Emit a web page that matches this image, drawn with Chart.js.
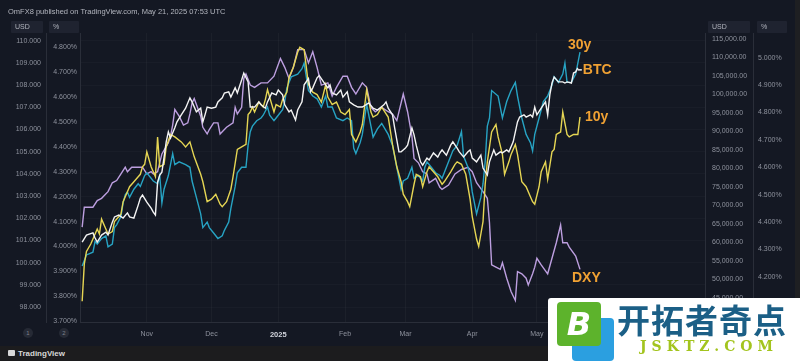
<!DOCTYPE html>
<html><head><meta charset="utf-8">
<script src="https://cdn.jsdelivr.net/npm/chart.js@4.4.1/dist/chart.umd.min.js"></script>
<style>
html,body{margin:0;padding:0;background:#141823;width:800px;height:361px;overflow:hidden;font-family:"Liberation Sans",Arial,sans-serif;}
#wrap{position:relative;width:800px;height:361px;}
canvas{position:absolute;left:0;top:0;}
.hdr{position:absolute;left:8px;top:7px;font-size:7.5px;color:#b2b5be;white-space:nowrap;}
.badge{position:absolute;top:21px;height:12px;background:#1f2330;color:#b2b5be;font-size:7px;line-height:12px;padding-left:4px;box-sizing:border-box;border-radius:1px;}
.strip{position:absolute;left:795px;top:0;width:5px;height:346px;background:#1e1f22;}
.foot{position:absolute;left:0;top:346px;width:800px;height:15px;background:#1c1c1e;}
.tv{position:absolute;left:8px;top:349px;font-size:8px;color:#d8d8d8;font-weight:bold;white-space:nowrap;}
.tv b{display:inline-block;width:7px;height:6px;background:#d8d8d8;margin-right:3px;vertical-align:-0px;border-radius:1px;}
.circ{position:absolute;top:328px;width:10px;height:10px;border-radius:50%;background:#262a35;color:#7d818c;font-size:6px;line-height:10px;text-align:center;}
.wm{position:absolute;left:548px;top:298px;width:252px;height:63px;background:#ffffff;border-top-left-radius:3px;}
.gsq{position:absolute;left:572px;top:318px;width:42px;height:43px;background:#2b9fe0;border-radius:4px;}
.bsq{position:absolute;left:557px;top:302px;width:44px;height:44px;background:#5db32c;border-radius:4px;color:#fff;font:italic bold 32px "DejaVu Sans",sans-serif;text-align:center;line-height:44px;}
.cn{position:absolute;left:617px;top:300px;font:bold 33px "Noto Sans CJK SC",sans-serif;color:#1b5f86;white-space:nowrap;line-height:38px;letter-spacing:1px;}
.en{position:absolute;left:640px;top:338px;font:bold 14px "DejaVu Serif",serif;color:#a3c41e;letter-spacing:5px;white-space:nowrap;line-height:16px;}
</style></head>
<body><div id="wrap">
<canvas id="c" width="800" height="361"></canvas>
<div class="hdr">OmFX8 published on TradingView.com, May 21, 2025 07:53 UTC</div>
<div class="badge" style="left:11px;width:32px;">USD</div>
<div class="badge" style="left:49px;width:30px;">%</div>
<div class="badge" style="left:708px;width:42px;">USD</div>
<div class="badge" style="left:757px;width:30px;">%</div>
<div class="strip"></div>
<div class="circ" style="left:23px;">1</div>
<div class="circ" style="left:59px;">2</div>
<div class="foot"></div>
<div class="tv"><b></b>TradingView</div>
<div class="wm"></div>
<div class="gsq"></div>
<div class="bsq">B</div>
<div class="cn">开拓者奇点</div>
<div class="en">JSKTZ.COM</div>
</div>
<script>
// ---- data (x = days since 1 Oct 2024) ----
const monthDays   = [31, 61, 92, 123, 151, 182, 212];
const monthLabels = ['Nov', 'Dec', '2025', 'Feb', 'Mar', 'Apr', 'May'];

const dxyTicks   = [98,99,100,101,102,103,104,105,106,107,108,109,110];
const tenYTicks  = [3.7,3.8,3.9,4.0,4.1,4.2,4.3,4.4,4.5,4.6,4.7,4.8];
const btcTicks   = [45000,50000,55000,60000,65000,70000,75000,80000,85000,90000,95000,100000,105000,110000,115000];
const thirtyTicks= [4.1,4.2,4.3,4.4,4.5,4.6,4.7,4.8,4.9,5.0];

const btcDays = [1,3,6,7,8,10,12,13,15,16,18,20,22,23,25,27,28,29,31,33,34,35,36,37,38,39,40,41,42,44,45,47,49,51,52,54,56,57,58,59,61,63,64,66,67,69,70,72,73,75,76,78,79,81,83,84,86,87,89,91,92,94,95,97,98,100,101,103,104,106,107,108,110,111,113,115,116,117,119,121,122,124,125,127,129,131,134,136,138,141,142,143,145,146,148,149,151,152,154,155,156,158,159,161,162,164,166,167,168,170,172,173,175,176,178,180,181,182,184,186,187,189,190,192,193,195,196,198,199,201,203,204,206,207,209,210,211,212,214,216,217,218,219,220,222,224,225,226,228,229,230,231];
const btcValues = [60100,62000,62600,61200,60100,62000,62800,62000,65500,66900,67400,66600,68000,66900,66600,70100,72000,72800,70900,69300,68200,67400,76300,78200,79000,83000,87200,89900,88200,91000,92600,94500,96300,99100,98000,95300,96300,92600,94500,96600,96300,96600,98000,99100,100400,100700,99300,101800,100400,103900,105800,103400,96600,96600,98000,97200,96300,98000,100400,99900,101200,99900,97200,95300,95800,93100,95800,98000,102600,104300,100700,101800,104500,105100,103400,101800,102600,100400,99900,101200,99300,100700,98000,97200,96600,96600,97700,96300,95800,97200,98000,96300,94500,91000,84500,84500,85500,86300,91000,89100,86300,81800,80900,82800,82300,84200,83100,84200,85000,83600,86300,87200,85500,84500,83100,84500,85000,82800,81800,83600,80100,78200,81800,85000,83600,84500,84200,85000,84500,87200,92600,93900,94500,93900,94500,93900,96600,94500,96300,98000,94500,99900,103100,104700,103400,103400,103100,103400,103100,105800,106100,107200];

const tenYDays = [1,2,3,5,6,8,9,10,12,13,15,16,19,20,22,23,25,27,28,29,30,31,33,34,35,36,37,39,40,42,44,47,49,51,53,56,57,59,61,63,65,66,68,70,71,73,75,77,78,79,80,81,83,85,86,87,88,90,91,93,94,96,97,99,101,102,104,106,108,110,112,114,115,117,119,121,123,125,126,128,130,131,133,135,136,138,140,143,145,147,149,150,152,153,155,156,158,159,161,162,164,166,168,169,172,174,175,177,179,181,182,184,185,187,188,189,191,193,194,196,197,199,200,202,203,205,207,209,210,211,213,214,216,217,219,220,221,223,224,226,227,229,231,232];
const tenYValues = [3.78,3.93,3.98,4.01,4.03,4.07,4.05,4.11,4.07,4.05,4.06,4.10,4.13,4.18,4.22,4.24,4.26,4.28,4.29,4.32,4.33,4.38,4.32,4.30,4.28,4.44,4.32,4.33,4.40,4.45,4.44,4.42,4.40,4.42,4.36,4.29,4.26,4.18,4.19,4.21,4.17,4.16,4.18,4.23,4.28,4.39,4.40,4.41,4.53,4.54,4.56,4.54,4.58,4.56,4.59,4.63,4.60,4.54,4.57,4.56,4.59,4.62,4.68,4.72,4.78,4.80,4.79,4.65,4.62,4.61,4.58,4.65,4.60,4.57,4.58,4.54,4.53,4.55,4.45,4.42,4.46,4.49,4.63,4.54,4.52,4.53,4.56,4.52,4.41,4.32,4.26,4.21,4.18,4.16,4.25,4.29,4.28,4.24,4.30,4.32,4.30,4.28,4.25,4.26,4.30,4.33,4.34,4.33,4.29,4.19,4.12,4.03,4.00,4.10,4.25,4.34,4.46,4.49,4.44,4.37,4.29,4.34,4.37,4.41,4.37,4.26,4.24,4.20,4.18,4.17,4.24,4.30,4.34,4.27,4.38,4.39,4.45,4.46,4.54,4.45,4.44,4.45,4.45,4.52];

const thirtyYDays = [1,3,6,7,8,10,12,13,15,16,17,19,20,21,22,23,25,27,28,30,31,34,36,37,38,39,41,43,44,46,49,51,52,54,56,57,59,60,62,64,66,67,69,70,72,73,75,77,78,79,80,82,84,85,87,88,90,91,94,95,96,98,101,103,104,106,108,110,112,114,115,117,119,122,124,126,127,128,130,131,133,135,136,138,140,143,145,147,149,150,152,154,155,157,159,160,161,163,165,167,168,171,173,175,177,178,180,181,182,184,186,187,188,189,190,191,194,195,196,198,200,202,203,205,207,209,210,211,213,215,217,219,220,222,224,225,226,228,230,231,232];
const thirtyYValues = [4.24,4.28,4.29,4.33,4.32,4.34,4.35,4.31,4.32,4.38,4.39,4.42,4.47,4.50,4.51,4.49,4.52,4.54,4.53,4.57,4.58,4.55,4.54,4.57,4.47,4.52,4.57,4.65,4.61,4.62,4.61,4.60,4.55,4.49,4.43,4.38,4.40,4.38,4.36,4.34,4.35,4.37,4.40,4.45,4.53,4.58,4.60,4.60,4.68,4.73,4.75,4.77,4.78,4.79,4.82,4.79,4.77,4.78,4.81,4.84,4.89,4.93,4.94,4.96,4.98,4.88,4.86,4.85,4.82,4.86,4.82,4.82,4.78,4.77,4.78,4.77,4.67,4.65,4.69,4.72,4.83,4.75,4.71,4.74,4.76,4.72,4.68,4.60,4.52,4.55,4.56,4.60,4.56,4.57,4.55,4.60,4.62,4.60,4.58,4.57,4.56,4.62,4.66,4.68,4.73,4.64,4.60,4.57,4.51,4.43,4.49,4.54,4.62,4.75,4.78,4.88,4.86,4.82,4.78,4.84,4.88,4.91,4.86,4.78,4.72,4.69,4.66,4.72,4.78,4.84,4.86,4.90,4.93,4.91,4.94,4.98,4.91,4.91,4.94,4.98,5.02];

const dxyDays = [1,2,6,8,10,13,15,17,19,21,22,24,28,29,31,33,34,36,38,41,42,43,44,46,48,50,51,52,53,56,57,59,60,62,64,65,66,68,71,72,73,75,76,77,79,81,84,87,90,93,95,97,99,101,104,106,108,110,112,115,117,119,122,124,126,128,131,133,135,137,140,143,145,147,150,152,154,155,157,159,161,162,165,167,168,171,174,177,180,182,184,187,189,190,191,193,195,196,198,200,202,203,205,207,208,210,211,212,214,217,219,221,223,224,226,227,230,232];
const dxyValues = [101.6,102.5,102.5,102.8,102.9,103.2,103.6,103.7,104.0,104.3,104.1,104.3,104.3,104.3,104.0,104.1,104.0,104.1,104.9,105.4,105.7,106.2,106.9,106.6,106.2,106.3,106.7,107.2,107.4,106.6,106.1,105.8,106.0,106.3,106.3,105.8,105.9,106.1,106.3,107.0,106.7,107.0,108.3,108.5,108.0,107.9,108.1,108.1,108.4,109.2,108.8,108.3,108.8,109.6,109.6,109.0,109.5,108.8,108.0,108.1,107.5,107.9,108.4,108.4,107.9,107.6,108.1,107.9,107.0,106.8,107.0,106.8,106.7,106.4,107.6,106.8,105.7,104.7,104.5,104.1,104.0,103.6,103.8,103.4,103.3,103.5,104.0,104.2,104.3,104.1,103.6,103.2,102.9,101.8,99.9,99.8,99.7,100.0,99.3,98.7,98.3,99.6,99.5,99.3,99.0,99.5,99.8,100.2,99.9,99.5,100.2,100.9,101.7,100.9,100.9,100.7,100.3,99.7];

// ---- chart ----
const pts = (d, v) => d.map((x, i) => ({x: x, y: v[i]}));
const FAM = '"Liberation Sans", Arial, sans-serif';
const tickFont = {family: FAM, size: 7};
const tickCol = '#8e929d';
const sepCol = '#2a2e39';
const fixedTicks = arr => (axis => { axis.ticks = arr.map(v => ({value: v})); });

const endLabels = [
  {ds: 0, text: 'BTC', dx: 5, dy: 2},
  {ds: 1, text: '10y', dx: 5, dy: 0},
  {ds: 2, text: '30y', dx: -12, dy: -7},
  {ds: 3, text: 'DXY', dx: -8, dy: 9}
];
const endLabelPlugin = {
  id: 'endLabels',
  afterDatasetsDraw(chart) {
    const ctx = chart.ctx;
    ctx.save();
    const bm = chart.getDatasetMeta(0).data;
    const bp = bm[bm.length - 1];
    ctx.strokeStyle = '#f2f2f2'; ctx.lineWidth = 1.5;
    ctx.beginPath(); ctx.moveTo(bp.x, bp.y + 2); ctx.lineTo(bp.x + 4, bp.y + 2); ctx.stroke();
    ctx.font = 'bold 14px ' + FAM;
    ctx.fillStyle = '#f0a133';
    ctx.textBaseline = 'middle';
    endLabels.forEach(l => {
      const m = chart.getDatasetMeta(l.ds).data;
      const p = m[m.length - 1];
      ctx.fillText(l.text, p.x + l.dx, p.y + l.dy);
    });
    ctx.restore();
  }
};

const yAxis = (pos, weight, min, max, ticksArr, fmt, pad, width, grid) => ({
  type: 'linear', position: pos, weight: weight, min: min, max: max,
  afterBuildTicks: fixedTicks(ticksArr),
  afterFit: s => { s.width = width; },
  ticks: {autoSkip: false, color: tickCol, font: tickFont, padding: pad, callback: fmt},
  grid: grid ? {color: 'rgba(255,255,255,0.022)', drawTicks: false} : {display: false, drawTicks: false},
  border: {display: true, color: sepCol}
});

new Chart(document.getElementById('c'), {
  type: 'line',
  data: {
    datasets: [
      {label: 'BTC', data: pts(btcDays, btcValues), yAxisID: 'yBtc', borderColor: '#f4f4f4', borderWidth: 1.4},
      {label: '10y', data: pts(tenYDays, tenYValues), yAxisID: 'yTen', borderColor: '#e6d654', borderWidth: 1.4},
      {label: '30y', data: pts(thirtyYDays, thirtyYValues), yAxisID: 'yThirty', borderColor: '#27a3c3', borderWidth: 1.4},
      {label: 'DXY', data: pts(dxyDays, dxyValues), yAxisID: 'yDxy', borderColor: '#bd9fe0', borderWidth: 1.4}
    ]
  },
  options: {
    responsive: false, animation: false, devicePixelRatio: 1,
    elements: {point: {radius: 0}, line: {tension: 0}},
    layout: {padding: {top: 33, left: 0, right: 5, bottom: 15}},
    plugins: {legend: {display: false}, tooltip: {enabled: false}},
    scales: {
      x: {
        type: 'linear', position: 'bottom', min: 0, max: 290,
        afterBuildTicks: fixedTicks(monthDays),
        afterFit: s => { s.height = 24; },
        ticks: {
          autoSkip: false, maxRotation: 0, padding: 8,
          color: c => (c.tick && c.tick.value === 92) ? '#d1d4dc' : tickCol,
          font: c => (c.tick && c.tick.value === 92) ? {family: FAM, size: 7.5, weight: 'bold'} : {family: FAM, size: 7},
          callback: v => monthLabels[monthDays.indexOf(v)]
        },
        grid: {color: 'rgba(255,255,255,0.035)', drawTicks: false},
        border: {display: true, color: sepCol}
      },
      yDxy: yAxis('left', 2, 97.329, 110.347, dxyTicks, v => v.toFixed(3), 5, 46, true),
      yTen: yAxis('left', 1, 3.6968, 4.8574, tenYTicks, v => v.toFixed(3) + '%', 3, 34, false),
      yBtc: yAxis('right', 1, 38505, 116622, btcTicks, v => v.toLocaleString('en-US', {minimumFractionDigits: 2, maximumFractionDigits: 2}), 7, 48, false),
      yThirty: yAxis('right', 2, 4.0354, 5.0901, thirtyTicks, v => v.toFixed(3) + '%', 5, 42, false)
    }
  },
  plugins: [endLabelPlugin]
});
</script>
</body></html>
